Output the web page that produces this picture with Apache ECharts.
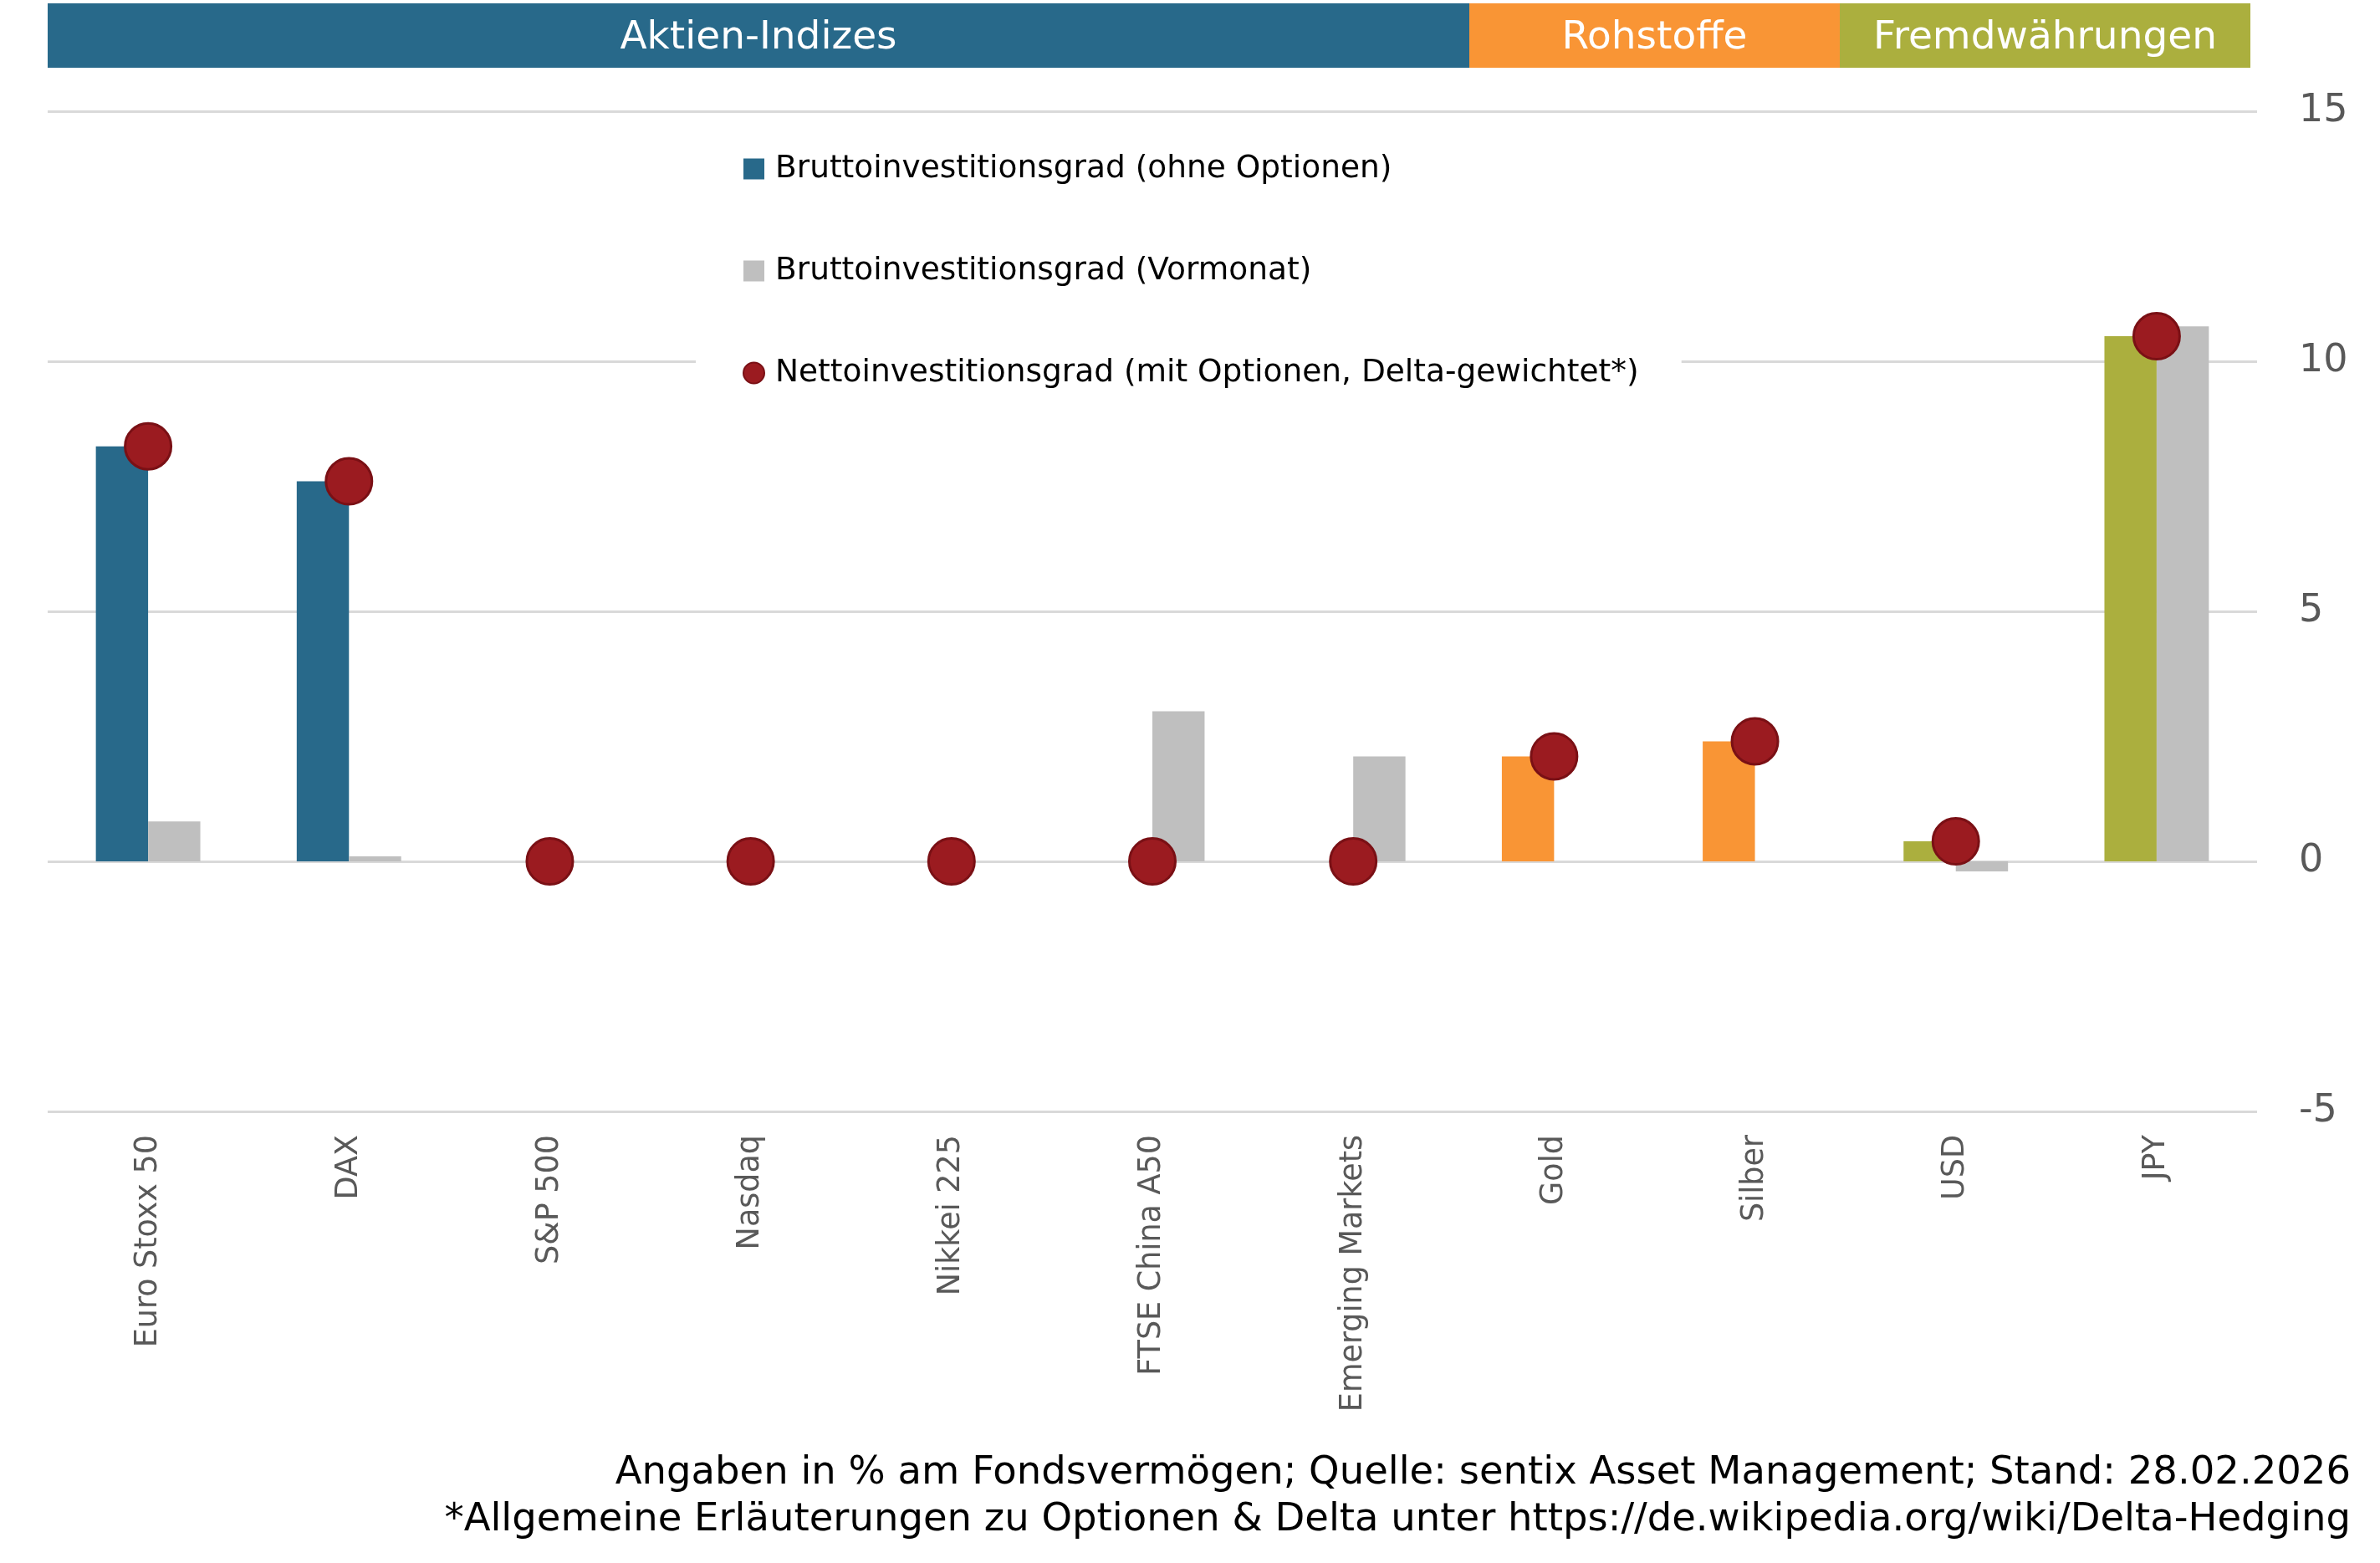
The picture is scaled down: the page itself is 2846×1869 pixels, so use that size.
<!DOCTYPE html>
<html>
<head>
<meta charset="utf-8">
<script src="https://cdn.jsdelivr.net/npm/echarts@6/dist/echarts.min.js"></script>
<style>
html,body{margin:0;padding:0;background:#fff;}
#chart{width:2846px;height:1869px;}
</style>
</head>
<body>
<div id="chart"></div>
<script>
// ---- data ----
var categories = ['Euro Stoxx 50','DAX','S&P 500','Nasdaq','Nikkei 225','FTSE China A50','Emerging Markets','Gold','Silber','USD','JPY'];
var categoryGroup = ['aktien','aktien','aktien','aktien','aktien','aktien','aktien','rohstoffe','rohstoffe','fx','fx'];
var grossNow = [8.3, 7.6, 0, 0, 0, 0, 0, 2.1, 2.4, 0.4, 10.5];
var grossPrev = [0.8, 0.1, 0, 0, 0, 3.0, 2.1, 0, 0, -0.2, 10.7];
var netDelta = [8.3, 7.6, 0, 0, 0, 0, 0, 2.1, 2.4, 0.4, 10.5];
var seriesNames = ['Bruttoinvestitionsgrad (ohne Optionen)','Bruttoinvestitionsgrad (Vormonat)','Nettoinvestitionsgrad (mit Optionen, Delta-gewichtet*)'];
var groupLabels = ['Aktien-Indizes','Rohstoffe','Fremdwährungen'];
var yTicks = {min: -5, max: 15, interval: 5};
var footnotes = ['Angaben in % am Fondsvermögen; Quelle: sentix Asset Management; Stand: 28.02.2026',
                 '*Allgemeine Erläuterungen zu Optionen & Delta unter https://de.wikipedia.org/wiki/Delta-Hedging'];

// ---- styles ----
var FONT = 'DejaVu Sans';
var groupColor = {aktien: '#28698a', rohstoffe: '#f99535', fx: '#abaf3e'};
var prevColor = '#bfbfbf';
var netColor = '#9b1b20';

var chart = echarts.init(document.getElementById('chart'), null, {renderer: 'canvas'});

var bandRects = [
  {x: 57, w: 1700, color: groupColor.aktien, label: groupLabels[0]},
  {x: 1757, w: 443, color: groupColor.rohstoffe, label: groupLabels[1]},
  {x: 2200, w: 491, color: groupColor.fx, label: groupLabels[2]}
];
var graphics = [];
bandRects.forEach(function (b) {
  graphics.push({type: 'rect', shape: {x: b.x, y: 4, width: b.w, height: 77}, style: {fill: b.color}, z: 10});
  graphics.push({type: 'text', x: b.x + b.w / 2, y: 46, style: {text: b.label, fill: '#fff', font: '47px "' + FONT + '"', textAlign: 'center', textVerticalAlign: 'middle'}, z: 11});
});
footnotes.forEach(function (t, i) {
  graphics.push({type: 'text', x: 2811, y: 1762 + i * 56, style: {text: t, fill: '#000', font: '46.5px "' + FONT + '"', textAlign: 'right', textVerticalAlign: 'middle'}, z: 11});
});

var option = {
  backgroundColor: '#fff',
  animation: false,
  textStyle: {fontFamily: FONT},
  grid: {left: 57, right: 147, top: 133, bottom: 540, containLabel: false},
  legend: {
    orient: 'vertical',
    left: 832,
    top: 162,
    padding: [20, 51, 20, 56],
    backgroundColor: '#fff',
    itemWidth: 25,
    itemHeight: 25,
    itemGap: 82,
    textStyle: {fontSize: 37.5, color: '#000', lineHeight: 40, fontFamily: FONT, padding: [0, 0, 0, 8]},
    data: [
      {name: seriesNames[0], icon: 'rect'},
      {name: seriesNames[1], icon: 'rect'},
      {name: seriesNames[2], icon: 'circle'}
    ]
  },
  xAxis: {
    type: 'category',
    data: categories,
    position: 'bottom',
    axisLine: {show: false},
    axisTick: {show: false},
    axisLabel: {rotate: 90, color: '#595959', fontSize: 36.5, fontFamily: FONT, margin: 28, interval: 0}
  },
  yAxis: {
    type: 'value',
    position: 'right',
    min: yTicks.min,
    max: yTicks.max,
    interval: yTicks.interval,
    axisLine: {show: false},
    axisTick: {show: false},
    axisLabel: {color: '#595959', fontSize: 46, fontFamily: FONT, margin: 50},
    splitLine: {lineStyle: {color: '#d9d9d9', width: 3}}
  },
  series: [
    {
      name: seriesNames[0],
      type: 'bar',
      barGap: '0%',
      barCategoryGap: '48%',
      color: groupColor.aktien,
      data: grossNow.map(function (v, i) {
        return {value: v, itemStyle: {color: groupColor[categoryGroup[i]]}};
      })
    },
    {
      name: seriesNames[1],
      type: 'bar',
      barGap: '0%',
      barCategoryGap: '48%',
      color: prevColor,
      data: grossPrev
    },
    {
      name: seriesNames[2],
      type: 'scatter',
      symbol: 'circle',
      symbolSize: 55,
      color: netColor,
      itemStyle: {color: netColor, opacity: 1, borderColor: '#7a1015', borderWidth: 3},
      z: 5,
      data: netDelta
    }
  ],
  graphic: graphics
};
chart.setOption(option);
</script>
</body>
</html>
